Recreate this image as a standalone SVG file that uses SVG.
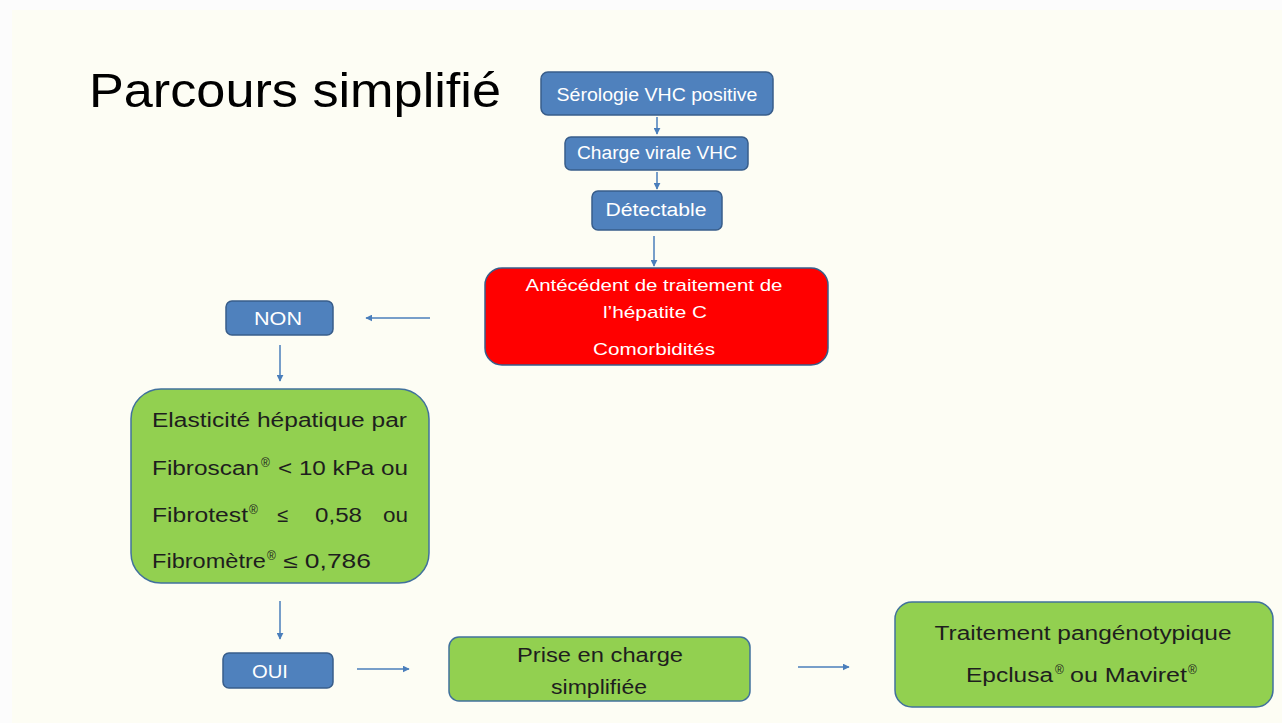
<svg xmlns="http://www.w3.org/2000/svg" width="1282" height="723" viewBox="0 0 1282 723">
<defs>
<marker id="ah" viewBox="0 0 10 10" refX="9" refY="5" markerWidth="7" markerHeight="7" markerUnits="userSpaceOnUse" orient="auto">
<path d="M0,0 L10,5 L0,10 z" fill="#4A7EBB"/>
</marker>
<style>
.blue{fill:#4F81BD;stroke:#385D8A;stroke-width:1.5}
.red{fill:#FF0000;stroke:#385D8A;stroke-width:1.5}
.green{fill:#92D050;stroke:#41719C;stroke-width:1.5}
.wt{font-family:"Liberation Sans",Arial,sans-serif;fill:#FFFFFF;text-anchor:middle}
.bt{font-family:"Liberation Sans",Arial,sans-serif;fill:#1E1E1E}
.sup{font-size:12px}
.conn line{stroke:#4A7EBB;stroke-width:1.5;marker-end:url(#ah)}
</style>
</defs>
<rect x="0" y="0" width="1282" height="723" fill="#FCFCFC"/>
<rect x="12" y="10" width="1270" height="713" fill="#FDFDF4"/>
<text x="89" y="107" font-family="'Liberation Sans',Arial,sans-serif" font-size="48" fill="#000" textLength="412" lengthAdjust="spacingAndGlyphs">Parcours simplifié</text>

<g id="n-serologie">
<rect class="blue" x="541" y="72" width="232" height="43" rx="7"/>
<text class="wt" x="657" y="101" font-size="18" textLength="201" lengthAdjust="spacingAndGlyphs">Sérologie VHC positive</text>
</g>
<g id="n-charge">
<rect class="blue" x="565" y="137" width="183" height="33" rx="6"/>
<text class="wt" x="657" y="159" font-size="18" textLength="160" lengthAdjust="spacingAndGlyphs">Charge virale VHC</text>
</g>
<g id="n-detectable">
<rect class="blue" x="592" y="191" width="130" height="39" rx="6"/>
<text class="wt" x="656" y="216" font-size="18" textLength="101" lengthAdjust="spacingAndGlyphs">Détectable</text>
</g>
<g id="n-antecedent">
<rect class="red" x="485" y="268" width="343" height="97" rx="17"/>
<text class="wt" x="654" y="291" font-size="17" textLength="257" lengthAdjust="spacingAndGlyphs">Antécédent de traitement de</text>
<text class="wt" x="655" y="318" font-size="17" textLength="104" lengthAdjust="spacingAndGlyphs">l’hépatite C</text>
<text class="wt" x="654" y="355" font-size="17" textLength="122" lengthAdjust="spacingAndGlyphs">Comorbidités</text>
</g>
<g id="n-non">
<rect class="blue" x="226" y="301" width="107" height="34" rx="6"/>
<text class="wt" x="278" y="325" font-size="18" textLength="48" lengthAdjust="spacingAndGlyphs">NON</text>
</g>
<g id="n-elasticite">
<rect class="green" x="131" y="389" width="298" height="194" rx="30"/>
<text class="bt" x="152" y="427" font-size="20" textLength="255" lengthAdjust="spacingAndGlyphs">Elasticité hépatique par</text>
<text class="bt" font-size="20"><tspan x="152" y="475" textLength="107" lengthAdjust="spacingAndGlyphs">Fibroscan</tspan><tspan class="sup" x="261" y="467">®</tspan><tspan x="278" y="475" textLength="130" lengthAdjust="spacingAndGlyphs">&lt; 10 kPa ou</tspan></text>
<text class="bt" font-size="20"><tspan x="152" y="522" textLength="96" lengthAdjust="spacingAndGlyphs">Fibrotest</tspan><tspan class="sup" x="249" y="514">®</tspan><tspan x="277" y="522">≤</tspan><tspan x="315" y="522" textLength="47" lengthAdjust="spacingAndGlyphs">0,58</tspan><tspan x="383" y="522" textLength="25" lengthAdjust="spacingAndGlyphs">ou</tspan></text>
<text class="bt" font-size="20"><tspan x="152" y="568" textLength="114" lengthAdjust="spacingAndGlyphs">Fibromètre</tspan><tspan class="sup" x="267" y="560">®</tspan><tspan x="283" y="568" textLength="88" lengthAdjust="spacingAndGlyphs">≤ 0,786</tspan></text>
</g>
<g id="n-oui">
<rect class="blue" x="223" y="653" width="110" height="35" rx="6"/>
<text class="wt" x="270" y="678" font-size="18" textLength="36" lengthAdjust="spacingAndGlyphs">OUI</text>
</g>
<g id="n-prise">
<rect class="green" x="449" y="637" width="301" height="64" rx="10"/>
<text class="bt" x="600" y="662" font-size="20" text-anchor="middle" textLength="166" lengthAdjust="spacingAndGlyphs">Prise en charge</text>
<text class="bt" x="599" y="694" font-size="20" text-anchor="middle" textLength="96" lengthAdjust="spacingAndGlyphs">simplifiée</text>
</g>
<g id="n-traitement">
<rect class="green" x="895" y="602" width="378" height="105" rx="17"/>
<text class="bt" x="1083" y="640" font-size="20" text-anchor="middle" textLength="297" lengthAdjust="spacingAndGlyphs">Traitement pangénotypique</text>
<text class="bt" font-size="20"><tspan x="966" y="682" textLength="87" lengthAdjust="spacingAndGlyphs">Epclusa</tspan><tspan class="sup" x="1055" y="674">®</tspan><tspan x="1070" y="682" textLength="117" lengthAdjust="spacingAndGlyphs">ou Maviret</tspan><tspan class="sup" x="1188" y="674">®</tspan></text>
</g>

<g id="connectors" class="conn">
<line x1="657" y1="117" x2="657" y2="134"/>
<line x1="657" y1="172" x2="657" y2="189"/>
<line x1="654" y1="236" x2="654" y2="266"/>
<line x1="430" y1="318" x2="366" y2="318"/>
<line x1="280" y1="345" x2="280" y2="381"/>
<line x1="280" y1="601" x2="280" y2="639"/>
<line x1="357" y1="669" x2="409" y2="669"/>
<line x1="798" y1="667" x2="849" y2="667"/>
</g>
</svg>
